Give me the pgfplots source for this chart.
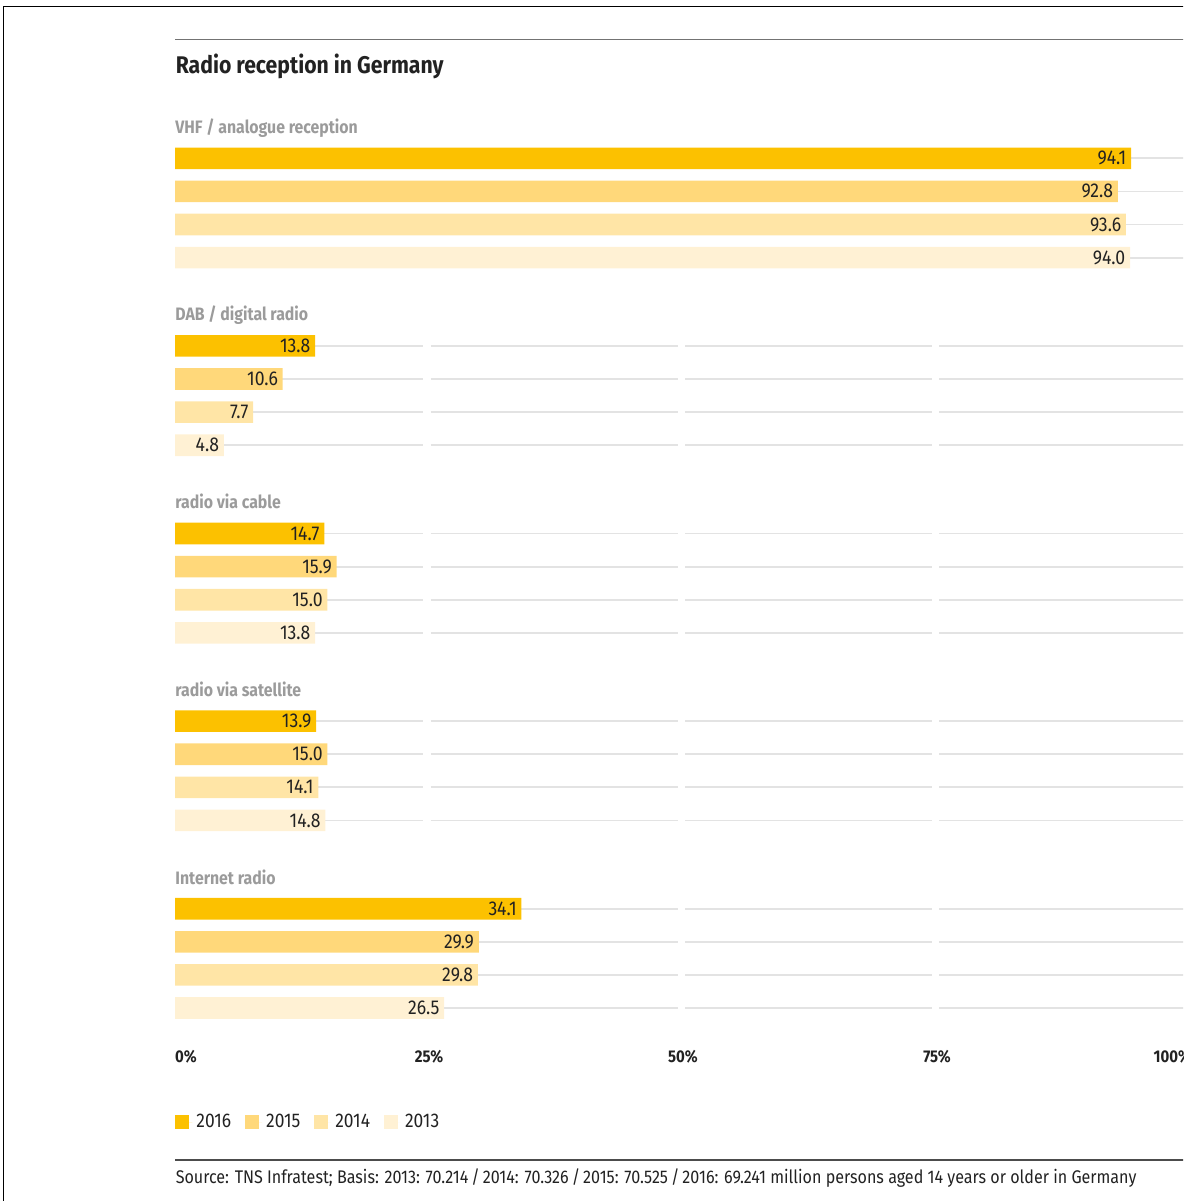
\documentclass[border=0pt]{standalone}
\usepackage{fontspec}
\setmainfont{Fira Sans}[FakeStretch=0.88]
\usepackage{pgfplots}
\pgfplotsset{compat=1.18}
\definecolor{c16}{HTML}{FCC100}
\definecolor{c15}{HTML}{FFD87A}
\definecolor{c14}{HTML}{FFE5A6}
\definecolor{c13}{HTML}{FFF1D4}
\definecolor{gridc}{HTML}{E3E3E3}
\definecolor{grp}{HTML}{9B9B9B}
\definecolor{txt}{HTML}{222222}
\pgfplotsset{
  mybar/.style={xbar, bar width=10.8pt, bar shift=0pt, draw=none, fill=#1,
    nodes near coords={\pgfmathprintnumber[fixed,fixed zerofill,precision=1]{\pgfplotspointmeta}},
    point meta=x,
    nodes near coords style={anchor=east, inner sep=2.2pt, text=txt, font=\fontsize{10}{11}\selectfont}},
}
\begin{document}
\begin{tikzpicture}
\useasboundingbox (0,0) rectangle (600pt,-600.5pt);
\clip (0,0) rectangle (591.5pt,-600.5pt);
\draw[line width=0.75pt] (1.75pt,-600.5pt) -- (1.75pt,-3.25pt) -- (600pt,-3.25pt);
\draw[line width=0.9pt, color=black!55] (87.5pt,-19.7pt) -- (600pt,-19.7pt);
\node[anchor=base west, inner sep=0pt, font=\bfseries\fontsize{12.05}{14}\selectfont, text=txt] at (87.7pt,-36.7pt) {Radio reception in Germany};
\draw[line width=0.9pt, color=black!70] (87.5pt,-579.8pt) -- (600pt,-579.8pt);
\node[anchor=base west, inner sep=0pt, font=\fontsize{9.15}{10}\selectfont, text=txt] at (87.7pt,-591.7pt) {Source: TNS Infratest; Basis: 2013: 70.214\,/\,2014: 70.326\,/\,2015: 70.525\,/\,2016: 69.241 million persons aged 14 years or older in Germany};
\begin{axis}[
  at={(87.5pt,-522.5pt)}, anchor=south west,
  scale only axis, width=508pt, height=472.5pt,
  xmin=0, xmax=100, ymin=-1045, ymax=-100,
  clip=false,
  axis line style={draw=none},
  major tick length=0pt,
  ytick=\empty,
  xtick={0,25,50,75,100},
  xticklabels={\makebox[0pt][l]{0\%},25\%,50\%,75\%,\makebox[0pt][r]{100\%}},
  xticklabel style={font=\bfseries\fontsize{8.5}{10}\selectfont, text=txt, inner sep=0pt, anchor=north, yshift=-2.2pt},
  /pgf/number format/assume math mode=true,
  legend columns=4,
  legend style={at={(0,-0.0815)}, anchor=west, draw=none, fill=none, inner sep=0pt,
    font=\fontsize{9.9}{11}\selectfont, text=txt,
    /tikz/every even column/.append style={column sep=5pt}},
  legend image code/.code={\fill[#1] (0pt,-3.5pt) rectangle (7pt,3.5pt); \path (0pt,0pt) -- (8.5pt,0pt);},
]
\pgfplotsinvokeforeach{158.3,191.4,224.5,257.6,345.9,379.0,412.1,445.2,533.5,566.6,599.7,632.8,721.1,754.2,787.3,820.4,908.7,941.8,974.9,1008.0}{
  \draw[gridc, line width=0.9pt] (axis cs:0,-#1) -- (axis cs:24.45,-#1) (axis cs:25.15,-#1) -- (axis cs:49.5,-#1) (axis cs:50.2,-#1) -- (axis cs:74.5,-#1) (axis cs:75.2,-#1) -- (axis cs:100,-#1);
}
\addplot[mybar=c16] coordinates {(94.1,-158.3) (13.8,-345.9) (14.7,-533.5) (13.9,-721.1) (34.1,-908.7)};
\addplot[mybar=c15] coordinates {(92.8,-191.4) (10.6,-379.0) (15.9,-566.6) (15.0,-754.2) (29.9,-941.8)};
\addplot[mybar=c14] coordinates {(93.6,-224.5) (7.7,-412.1) (15.0,-599.7) (14.1,-787.3) (29.8,-974.9)};
\addplot[mybar=c13] coordinates {(94.0,-257.6) (4.8,-445.2) (13.8,-632.8) (14.8,-820.4) (26.5,-1008.0)};
\legend{2016,2015,2014,2013}
\node[anchor=base west, inner sep=0pt, font=\bfseries\fontsize{9}{10}\selectfont, text=grp] at (axis cs:0,-133) {VHF / analogue reception};
\node[anchor=base west, inner sep=0pt, font=\bfseries\fontsize{9}{10}\selectfont, text=grp] at (axis cs:0,-320.5) {DAB / digital radio};
\node[anchor=base west, inner sep=0pt, font=\bfseries\fontsize{9}{10}\selectfont, text=grp] at (axis cs:0,-508) {radio via cable};
\node[anchor=base west, inner sep=0pt, font=\bfseries\fontsize{9}{10}\selectfont, text=grp] at (axis cs:0,-696) {radio via satellite};
\node[anchor=base west, inner sep=0pt, font=\bfseries\fontsize{9}{10}\selectfont, text=grp] at (axis cs:0,-884) {Internet radio};
\end{axis}
\end{tikzpicture}
\end{document}
